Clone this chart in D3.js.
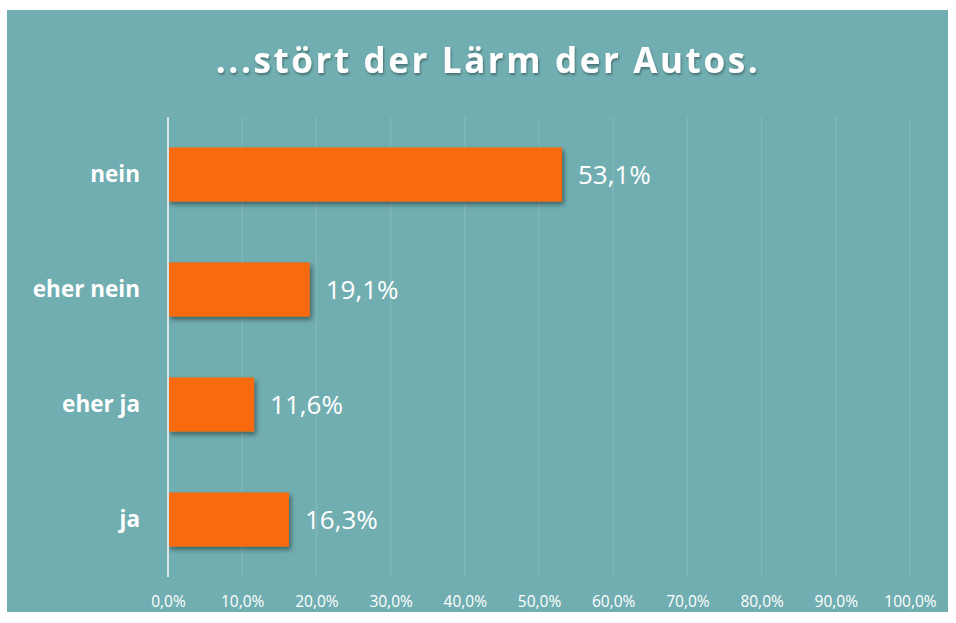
<!DOCTYPE html>
<html>
<head>
<meta charset="utf-8">
<script src="https://cdn.jsdelivr.net/npm/d3@7"></script>
<style>
  body { margin: 0; background: #fff; }
  svg { display: block; }
</style>
</head>
<body>
<div id="chart"></div>
<script>
// Antworten und Anteile (in %)
const categories = ["nein", "eher nein", "eher ja", "ja"];
const values = [53.1, 19.1, 11.6, 16.3];
const tickValues = [0, 10, 20, 30, 40, 50, 60, 70, 80, 90, 100];
const titleText = "...stört der Lärm der Autos.";

const W = 956, H = 623;
const margin = { top: 117, right: 45, bottom: 46, left: 168 };
const width = 910 - margin.left;
const height = 577 - margin.top;
const font = "'Open Sans', Lato, sans-serif";

const fmt = v => v.toFixed(1).replace(".", ",") + "%";

const svg = d3.select("#chart").append("svg")
    .attr("width", W)
    .attr("height", H);

const defs = svg.append("defs");
const sh = defs.append("filter").attr("id", "shadow")
    .attr("x", "-10%").attr("y", "-20%").attr("width", "130%").attr("height", "160%");
sh.append("feDropShadow")
    .attr("dx", 2).attr("dy", 3).attr("stdDeviation", 2.5)
    .attr("flood-color", "#000").attr("flood-opacity", 0.45);
const tsh = defs.append("filter").attr("id", "tshadow");
tsh.append("feDropShadow")
    .attr("dx", 1).attr("dy", 2).attr("stdDeviation", 1.2)
    .attr("flood-color", "#000").attr("flood-opacity", 0.35);

// Hintergrund
svg.append("rect")
    .attr("x", 7).attr("y", 10)
    .attr("width", 941).attr("height", 602)
    .attr("fill", "#71aeb1");

svg.append("text")
    .attr("x", 488).attr("y", 73)
    .attr("text-anchor", "middle")
    .attr("fill", "#fff")
    .attr("font-family", font)
    .attr("font-weight", "bold")
    .attr("font-size", 35)
    .attr("letter-spacing", 2.6)
    .attr("filter", "url(#tshadow)")
    .text(titleText);

const g = svg.append("g")
    .attr("transform", `translate(${margin.left},${margin.top})`);

const x = d3.scaleLinear().domain([0, 100]).range([0, width]);
const y = d3.scaleBand().domain(categories).range([0, height]).paddingInner(0.53).paddingOuter(0.265);

// Gitterlinien
g.append("g")
    .selectAll("line")
    .data(tickValues.slice(1))
    .join("line")
    .attr("x1", d => x(d)).attr("x2", d => x(d))
    .attr("y1", 0).attr("y2", height)
    .attr("stroke", "#fff")
    .attr("stroke-opacity", 0.13)
    .attr("stroke-width", 1.2);

const xAxis = g.append("g")
    .attr("transform", `translate(0,${height})`)
    .call(d3.axisBottom(x).tickValues(tickValues).tickFormat(fmt).tickSize(0).tickPadding(19));
xAxis.select(".domain").remove();
xAxis.selectAll("text")
    .attr("fill", "#fff")
    .attr("font-family", font)
    .attr("font-size", 15.5);

g.selectAll("rect.bar")
    .data(values)
    .join("rect")
    .attr("class", "bar")
    .attr("x", x(0))
    .attr("y", (d, i) => y(categories[i]))
    .attr("width", d => x(d) - x(0))
    .attr("height", y.bandwidth())
    .attr("fill", "#f9690d")
    .attr("filter", "url(#shadow)");

// y-Achse
g.append("line")
    .attr("x1", 0).attr("x2", 0)
    .attr("y1", 0).attr("y2", height)
    .attr("stroke", "#d4e6e7")
    .attr("stroke-width", 2);

g.selectAll("text.cat")
    .data(categories)
    .join("text")
    .attr("class", "cat")
    .attr("x", -28)
    .attr("y", d => y(d) + y.bandwidth() / 2)
    .attr("dy", "0.35em")
    .attr("text-anchor", "end")
    .attr("fill", "#fff")
    .attr("font-family", font)
    .attr("font-weight", "bold")
    .attr("font-size", 22.5)
    .text(d => d);

g.selectAll("text.val")
    .data(values)
    .join("text")
    .attr("class", "val")
    .attr("x", d => x(d) + 16)
    .attr("y", (d, i) => y(categories[i]) + y.bandwidth() / 2)
    .attr("dy", "0.35em")
    .attr("fill", "#fff")
    .attr("font-family", font)
    .attr("font-size", 26)
    .text(fmt);
</script>
</body>
</html>
